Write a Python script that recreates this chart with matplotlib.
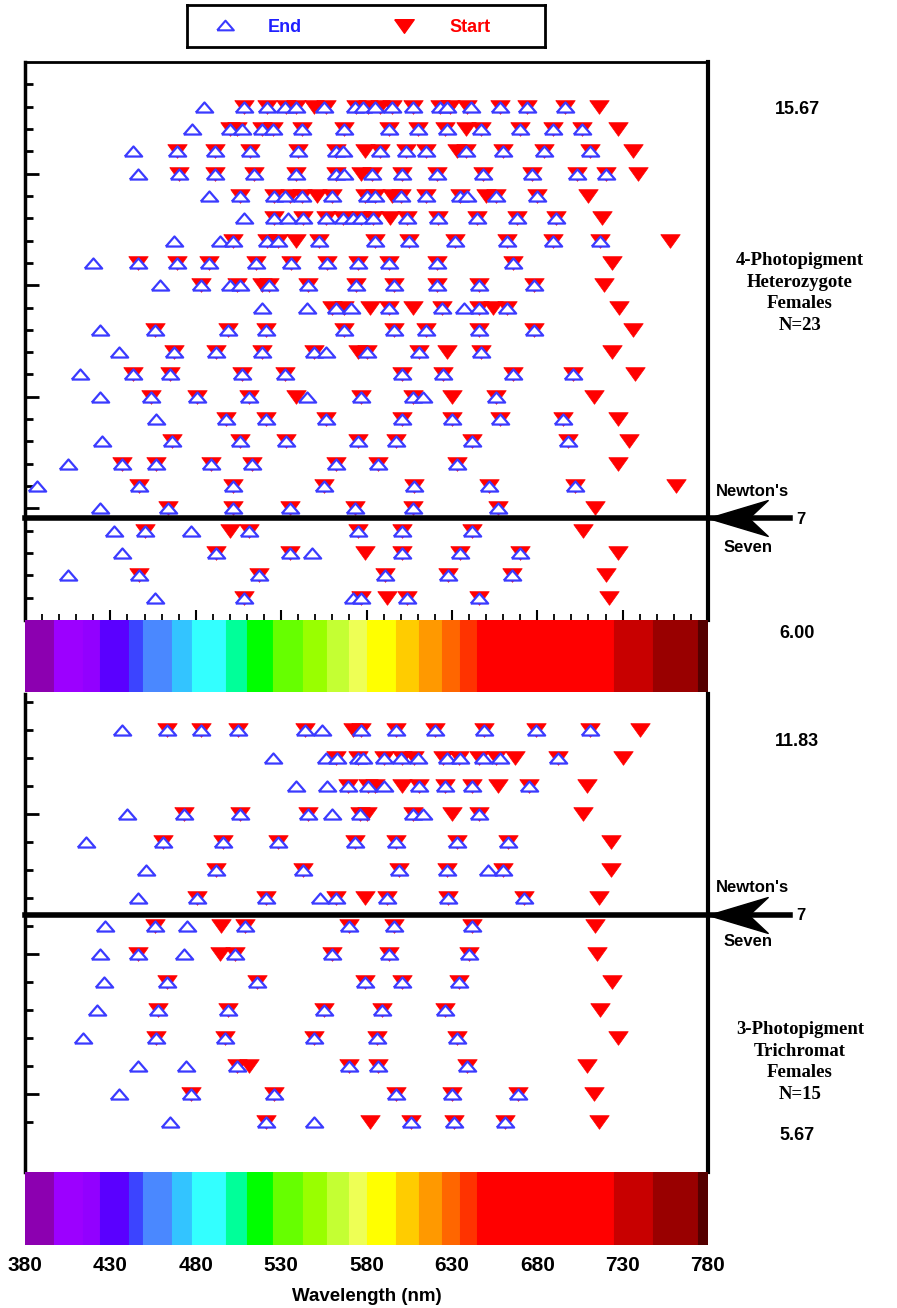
import matplotlib
matplotlib.use("Agg")
import matplotlib.pyplot as plt
import numpy as np

# wavelengths (nm) of the band edges, one list per subject, top row first
top_start = [
    [508, 522, 533, 539, 549, 556, 574, 581, 588, 595, 607, 623, 629, 639, 658, 674, 696, 716],
    [500, 504, 519, 525, 542, 567, 593, 610, 626, 638, 647, 670, 689, 706, 727],
    [469, 491, 512, 540, 562, 579, 588, 603, 615, 633, 638, 660, 684, 711, 736],
    [470, 491, 514, 539, 562, 577, 583, 601, 621, 648, 677, 703, 720, 739],
    [506, 526, 535, 542, 551, 560, 579, 585, 595, 600, 615, 635, 650, 656, 680, 710],
    [526, 543, 556, 566, 577, 584, 594, 604, 622, 645, 668, 691, 718],
    [502, 522, 528, 539, 552, 585, 605, 632, 662, 689, 717, 758],
    [446, 469, 488, 515, 536, 557, 575, 593, 621, 666, 724],
    [483, 504, 519, 523, 546, 574, 596, 621, 646, 678, 719],
    [560, 567, 582, 593, 607, 624, 646, 654, 662, 728],
    [456, 499, 521, 567, 596, 615, 646, 678, 736],
    [467, 492, 519, 549, 575, 580, 611, 627, 647, 724],
    [443, 465, 507, 532, 601, 625, 666, 701, 737],
    [454, 481, 511, 539, 577, 607, 630, 656, 713],
    [498, 521, 556, 601, 630, 658, 695, 727],
    [466, 506, 533, 575, 597, 642, 698, 734],
    [437, 457, 489, 513, 562, 587, 633, 727],
    [447, 502, 555, 608, 652, 702, 761],
    [464, 502, 535, 573, 607, 657, 714],
    [450, 500, 511, 575, 601, 642, 707],
    [492, 535, 579, 601, 635, 670, 727],
    [447, 517, 591, 628, 665, 720],
    [508, 577, 592, 604, 646, 722],
]
top_end = [
    [485, 508, 522, 532, 539, 555, 573, 578, 585, 595, 607, 623, 627, 641, 658, 674, 696],
    [478, 500, 507, 519, 525, 542, 567, 593, 610, 627, 647, 670, 689, 706],
    [443, 469, 491, 512, 540, 562, 566, 588, 603, 615, 638, 660, 684, 711],
    [446, 470, 491, 514, 539, 562, 567, 583, 601, 621, 648, 677, 703, 720],
    [488, 506, 526, 532, 542, 560, 580, 585, 600, 615, 635, 639, 656, 680],
    [508, 526, 534, 543, 556, 566, 572, 577, 584, 604, 622, 645, 668, 691],
    [467, 494, 502, 522, 528, 552, 585, 605, 632, 662, 689, 717],
    [420, 446, 469, 488, 515, 536, 557, 575, 593, 621, 666],
    [459, 483, 500, 506, 523, 546, 574, 596, 621, 646, 678],
    [519, 545, 562, 571, 593, 624, 637, 646, 662],
    [424, 456, 499, 521, 567, 596, 615, 646, 678],
    [435, 467, 492, 519, 549, 556, 580, 611, 647],
    [412, 443, 465, 507, 532, 601, 625, 666, 701],
    [424, 454, 481, 511, 545, 577, 607, 613, 656],
    [457, 498, 521, 556, 601, 630, 658, 695],
    [425, 466, 506, 533, 575, 597, 642, 698],
    [405, 437, 457, 489, 513, 562, 587, 633],
    [387, 447, 502, 555, 608, 652, 702],
    [424, 464, 502, 535, 573, 607, 657],
    [432, 450, 477, 511, 575, 601, 642],
    [437, 492, 535, 548, 601, 635, 670],
    [405, 447, 517, 591, 628, 665],
    [456, 508, 572, 577, 604, 646],
]
bot_start = [
    [463, 483, 505, 544, 572, 577, 597, 620, 649, 679, 711, 740],
    [562, 575, 590, 601, 608, 625, 634, 646, 656, 667, 692, 730],
    [569, 581, 585, 601, 611, 626, 642, 657, 675, 709],
    [473, 506, 546, 576, 580, 607, 630, 646, 707],
    [461, 496, 528, 573, 597, 633, 663, 723],
    [492, 543, 599, 627, 660, 723],
    [481, 521, 562, 579, 592, 628, 672, 716],
    [456, 495, 509, 570, 596, 642, 714],
    [446, 494, 503, 560, 593, 640, 715],
    [463, 516, 579, 601, 634, 724],
    [458, 499, 555, 589, 626, 717],
    [457, 497, 549, 586, 633, 727],
    [504, 511, 570, 587, 639, 709],
    [477, 526, 597, 630, 669, 713],
    [521, 582, 606, 631, 661, 716],
]
bot_end = [
    [437, 463, 483, 505, 544, 554, 577, 597, 620, 649, 679, 711],
    [525, 556, 563, 575, 578, 590, 600, 610, 627, 635, 648, 658, 692],
    [539, 557, 569, 581, 590, 611, 626, 642, 675],
    [440, 473, 506, 546, 560, 576, 607, 613, 646],
    [416, 461, 496, 528, 573, 597, 633, 663],
    [451, 492, 543, 599, 627, 651, 660],
    [446, 481, 521, 553, 562, 592, 628, 672],
    [427, 456, 475, 509, 570, 596, 642],
    [424, 446, 473, 503, 560, 593, 640],
    [426, 463, 516, 579, 601, 634],
    [422, 458, 499, 555, 589, 626],
    [414, 457, 497, 549, 586, 633],
    [446, 474, 504, 570, 587, 639],
    [435, 477, 526, 597, 630, 669],
    [465, 521, 549, 606, 631, 661],
]

top_newton = 4.58
bot_newton = 8.39

spec_edges = [380, 397, 414, 424, 441, 449, 466, 478, 498, 510, 525, 543, 557,
              570, 580, 597, 611, 624, 635, 645, 725, 748, 774, 780]
spec_colors = ["#8c00b0", "#9c00ff", "#9200ff", "#5a00ff", "#3c44ff", "#4a88ff",
               "#33c4ff", "#33ffff", "#00ff99", "#00ff00", "#66ff00", "#99ff00",
               "#c4ff33", "#eeff55", "#ffff00", "#ffcc00", "#ff9900", "#ff6600",
               "#ff3300", "#ff0000", "#c80000", "#990000", "#550000"]
wl_ticks = list(range(380, 781, 50))

W, H = 897, 1308
RED = "#ff0000"
BLUE = "#3a3aff"

plt.rcParams["font.family"] = "Liberation Sans"
plt.rcParams["font.weight"] = "bold"

fig = plt.figure(figsize=(W / 100, H / 100), dpi=100)


def box(x0, y0, x1, y1):
    # pixel box -> figure fraction
    return [x0 / W, 1 - y1 / H, (x1 - x0) / W, (y1 - y0) / H]


def fpos(x, y):
    return x / W, 1 - y / H


tri_down = [(-1, 0.7), (1, 0.7), (0, -0.7), (-1, 0.7)]
tri_up = [(-1, -0.58), (1, -0.58), (0, 0.58), (-1, -0.58)]
arrow_head = [(0, 0), (1, 0.3), (0.68, 0), (1, -0.3), (0, 0)]


def draw_rows(ax, starts, ends):
    n = len(starts)
    for i, (s, e) in enumerate(zip(starts, ends)):
        y = n - i
        ax.plot(s, [y] * len(s), ls="none", marker=tri_down, ms=14,
                mfc=RED, mec=RED, mew=0.5, zorder=3)
        ax.plot(e, [y] * len(e), ls="none", marker=tri_up, ms=12.5,
                mfc="white", mec=BLUE, mew=1.6, zorder=4)


def newton(ax, y):
    ax.axhline(y, xmin=0, xmax=1.12, color="black", lw=4, clip_on=False, zorder=5)
    ax.plot([780], [y], ls="none", marker=arrow_head, ms=86, color="black",
            clip_on=False, zorder=6)


def spectrum(ax):
    ax.bar(spec_edges[:-1], 1, width=np.diff(spec_edges), align="edge",
           color=spec_colors, edgecolor=spec_colors, linewidth=0.8)
    ax.set_xlim(380, 780)
    ax.set_ylim(0, 1)
    for sp in ax.spines.values():
        sp.set_visible(False)
    ax.set_yticks([])


# ---- top panel ----
ax1 = fig.add_axes(box(25, 62, 708, 620))
draw_rows(ax1, top_start, top_end)
newton(ax1, top_newton)
ax1.set_xlim(380, 780)
ax1.set_ylim(0, 25)
ax1.spines["bottom"].set_visible(False)
ax1.spines["left"].set_linewidth(2.5)
ax1.spines["right"].set_linewidth(3)
ax1.spines["top"].set_linewidth(2)
ax1.set_xticks(wl_ticks)
ax1.set_xticks(range(390, 780, 10), minor=True)
ax1.set_yticks([5, 10, 15, 20])
ax1.set_yticks(range(1, 25), minor=True)
ax1.tick_params(axis="both", which="both", direction="in", labelbottom=False,
                labelleft=False, top=False, right=False)
ax1.tick_params(axis="x", which="major", length=7, width=1.5)
ax1.tick_params(axis="x", which="minor", length=4, width=1.3)
ax1.tick_params(axis="y", which="major", length=10, width=2)
ax1.tick_params(axis="y", which="minor", length=6, width=2)

ax1s = fig.add_axes(box(25, 620, 708, 692))
spectrum(ax1s)
ax1s.set_xticks([])

# ---- bottom panel ----
ax2 = fig.add_axes(box(25, 694, 708, 1172))
draw_rows(ax2, bot_start, bot_end)
newton(ax2, bot_newton)
ax2.set_xlim(380, 780)
ax2.set_ylim(-0.79, 16.29)
ax2.spines["bottom"].set_visible(False)
ax2.spines["top"].set_visible(False)
ax2.spines["left"].set_linewidth(2.5)
ax2.spines["right"].set_linewidth(3)
ax2.set_xticks([])
ax2.set_yticks([2, 7, 12])
ax2.set_yticks(range(1, 17), minor=True)
ax2.tick_params(axis="y", which="both", direction="in", labelleft=False, right=False)
ax2.tick_params(axis="y", which="major", length=10, width=2)
ax2.tick_params(axis="y", which="minor", length=6, width=2)

ax2s = fig.add_axes(box(25, 1172, 708, 1245))
spectrum(ax2s)
ax2s.set_xticks(wl_ticks)
ax2s.set_xticklabels([str(t) for t in wl_ticks], fontsize=15, fontweight="bold")
ax2s.tick_params(axis="x", length=0, pad=8)
ax2s.set_xlabel("Wavelength (nm)", fontsize=13.5, fontweight="bold", labelpad=9)

# ---- legend box ----
axl = fig.add_axes(box(187, 5, 545, 47))
axl.set_xlim(187, 545)
axl.set_ylim(47, 5)
axl.set_xticks([])
axl.set_yticks([])
for sp in axl.spines.values():
    sp.set_linewidth(2)
axl.plot([225], [25], ls="none", marker=tri_up, ms=12, mfc="white", mec=BLUE, mew=1.5)
axl.plot([404], [26], ls="none", marker=tri_down, ms=14, mfc=RED, mec=RED)
axl.text(285, 27, "End", color="#2020ff", fontsize=13, ha="center", va="center")
axl.text(470, 27, "Start", color=RED, fontsize=13, ha="center", va="center")

# ---- annotations on the right ----
num_kw = dict(fontsize=13, fontweight="bold", ha="center", va="center")
fig.text(*fpos(797, 110), "15.67", **num_kw)
fig.text(*fpos(797, 633), "6.00", **num_kw)
fig.text(*fpos(797, 742), "11.83", **num_kw)
fig.text(*fpos(797, 1135), "5.67", **num_kw)

grp_kw = dict(fontsize=13.5, fontweight="bold", family="Liberation Serif",
              ha="center", va="center", linespacing=1.35)
fig.text(*fpos(800, 293), "4-Photopigment\nHeterozygote\nFemales\nN=23", **grp_kw)
fig.text(*fpos(800, 1062), "3-Photopigment\nTrichromat\nFemales\nN=15", **grp_kw)

nw_kw = dict(fontsize=12, fontweight="bold", ha="center", va="center")
for y_line, y_top, y_bot in [(519, 492, 548), (915, 887, 941)]:
    fig.text(*fpos(752, y_top), "Newton's", **nw_kw)
    fig.text(*fpos(748, y_bot), "Seven", **nw_kw)
    fig.text(*fpos(801, y_line), "7", **nw_kw)

fig.savefig("out.png", dpi=100)
